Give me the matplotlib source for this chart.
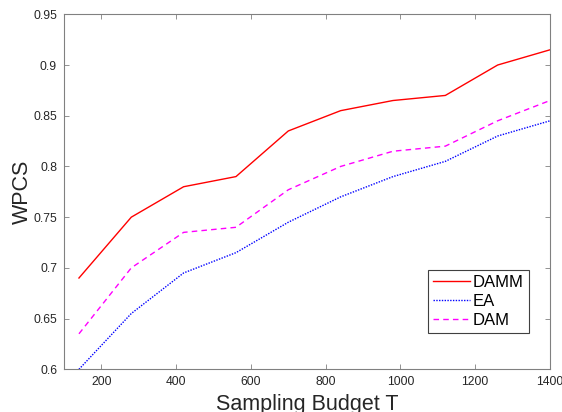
import matplotlib
matplotlib.use("Agg")
import matplotlib.pyplot as plt

budget = [140, 280, 420, 560, 700, 840, 980, 1120, 1260, 1400]
damm = [0.69, 0.75, 0.78, 0.79, 0.835, 0.855, 0.865, 0.87, 0.90, 0.915]
ea = [0.60, 0.655, 0.695, 0.715, 0.745, 0.77, 0.79, 0.805, 0.83, 0.845]
dam = [0.635, 0.70, 0.735, 0.74, 0.777, 0.80, 0.815, 0.82, 0.845, 0.865]
xticks = [200, 400, 600, 800, 1000, 1200, 1400]
yticks = [0.6, 0.65, 0.7, 0.75, 0.8, 0.85, 0.9, 0.95]
ytick_labels = ["0.6", "0.65", "0.7", "0.75", "0.8", "0.85", "0.9", "0.95"]

plt.rcParams['font.family'] = ['Liberation Sans', 'DejaVu Sans']

fig = plt.figure(figsize=(5.62, 4.12), dpi=100)
ax = fig.add_axes([64/562, 1 - 369.3/412, (550-64)/562, (369.3-14.3)/412])

ax.plot(budget, damm, color='#ff0000', linestyle='-', linewidth=1.0, label='DAMM')
ax.plot(budget, ea, color='#0000ff', linestyle=(0, (1, 1)), linewidth=1.0, label='EA')
ax.plot(budget, dam, color='#ff00ff', linestyle=(0, (4, 3)), linewidth=1.0, label='DAM')

ax.set_xlim(100, 1400)
ax.set_ylim(0.6, 0.95)
ax.set_xticks(xticks)
ax.set_xticklabels([str(t) for t in xticks])
ax.set_yticks(yticks)
ax.set_yticklabels(ytick_labels)

ax.tick_params(direction='in', top=True, right=True, length=3.6, width=0.6,
               colors='#808080', labelcolor='#262626', labelsize=8.7, pad=5)
for s in ax.spines.values():
    s.set_color('#808080')
    s.set_linewidth(0.8)

ax.set_ylabel('WPCS', fontsize=15.5, color='#262626', labelpad=0)
ax.set_xlabel('Sampling Budget T', fontsize=15.5, color='#262626', labelpad=4)

leg = ax.legend(loc='lower right', bbox_to_anchor=(529/562, 1 - 333/412),
                bbox_transform=fig.transFigure, fontsize=12, frameon=True,
                fancybox=False, edgecolor='#404040', framealpha=1,
                handlelength=2.2, handletextpad=0.2, borderpad=0.3,
                labelspacing=0.25, borderaxespad=0)
leg.get_frame().set_linewidth(0.8)
for t in leg.get_texts():
    t.set_color('#000000')

fig.savefig('out.png', dpi=100)
